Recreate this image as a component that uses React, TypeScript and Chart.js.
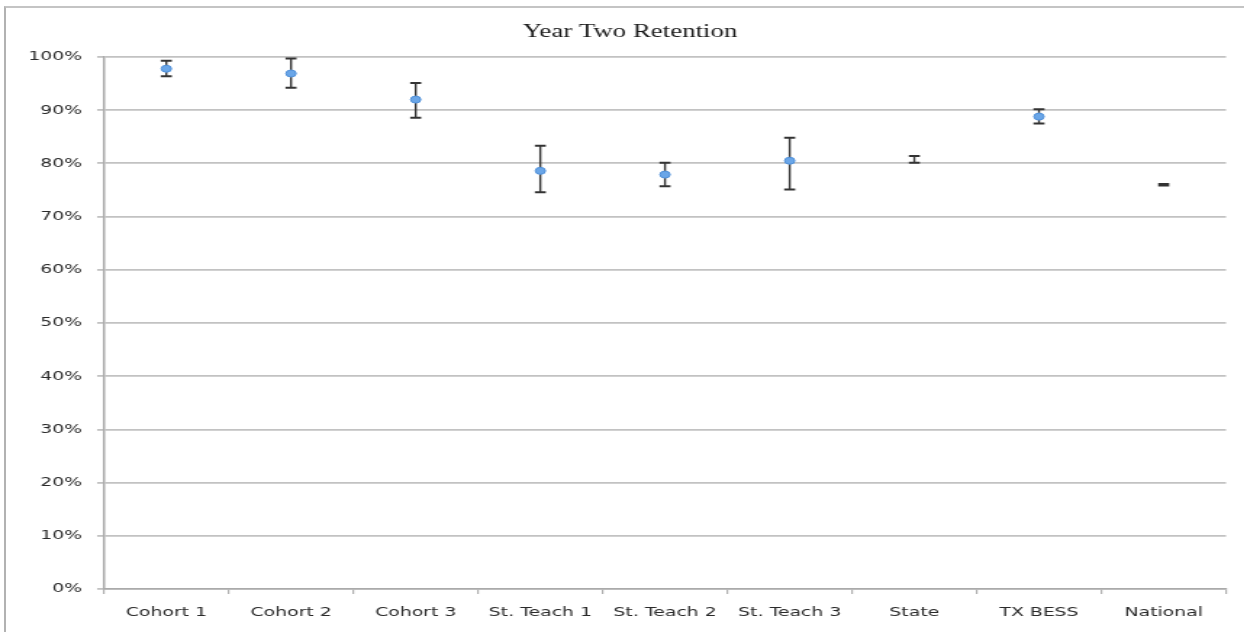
import { useEffect, useRef } from 'react';
import { Chart, registerables } from 'chart.js';

Chart.register(...registerables);

// Year-two retention rates (%) with their error ranges
const chartTitle = 'Year Two Retention';
const categories = ['Cohort 1', 'Cohort 2', 'Cohort 3', 'St. Teach 1', 'St. Teach 2', 'St. Teach 3', 'State', 'TX BESS', 'National'];
const retention = [97.8, 96.9, 92.0, 78.6, 77.9, 80.5, 80.8, 88.8, 76.0];
const lowerBound = [96.4, 94.2, 88.6, 74.6, 75.7, 75.1, 80.1, 87.5, 75.85];
const upperBound = [99.3, 99.7, 95.1, 83.3, 80.1, 84.8, 81.4, 90.2, 76.15];
// categories shown without a marker (only the range bar is drawn)
const barOnly = ['State', 'National'];

// The drawing is rendered narrow and widened horizontally
const STRETCH = 1.45;
const CANVAS_W = 858;
const CANVAS_H = 632;
const PLOT_LEFT = 104 / STRETCH;
const PLOT_RIGHT = 1226 / STRETCH;
const PLOT_TOP = 57;
const PLOT_BOTTOM = 589;
const CAP_HALF = 3.8;

const tickFont = { family: '"DejaVu Sans", sans-serif', size: 13 };

export default function App() {
  const canvasRef = useRef<HTMLCanvasElement>(null);

  useEffect(() => {
    const canvas = canvasRef.current;
    if (!canvas) return;

    const errorBars = {
      id: 'errorBars',
      beforeDatasetsDraw(chart: any) {
        const { ctx, scales } = chart;
        const x = scales.x;
        const y = scales.y;
        ctx.save();
        ctx.strokeStyle = '#333333';
        categories.forEach((_, i) => {
          const px = x.getPixelForValue(i);
          const top = y.getPixelForValue(upperBound[i]);
          const bot = y.getPixelForValue(lowerBound[i]);
          ctx.lineWidth = 1.4;
          ctx.beginPath();
          ctx.moveTo(px, top);
          ctx.lineTo(px, bot);
          ctx.stroke();
          ctx.lineWidth = 2;
          ctx.beginPath();
          ctx.moveTo(px - CAP_HALF, top);
          ctx.lineTo(px + CAP_HALF, top);
          ctx.moveTo(px - CAP_HALF, bot);
          ctx.lineTo(px + CAP_HALF, bot);
          ctx.stroke();
        });
        ctx.restore();
      },
    };

    const centeredTitle = {
      id: 'centeredTitle',
      afterDraw(chart: any) {
        const { ctx } = chart;
        ctx.save();
        ctx.font = '18.5px "Liberation Serif", serif';
        ctx.fillStyle = '#1a1a1a';
        ctx.textAlign = 'center';
        ctx.textBaseline = 'alphabetic';
        ctx.fillText(chartTitle, 630 / STRETCH, 36.5);
        ctx.restore();
      },
    };

    const markerRadius = (ctx: any) =>
      barOnly.includes(categories[ctx.dataIndex]) ? 0 : 3.5;

    const chart = new Chart(canvas, {
      type: 'line',
      data: {
        labels: categories,
        datasets: [
          {
            data: retention,
            showLine: false,
            pointRadius: markerRadius,
            pointHoverRadius: markerRadius,
            pointBackgroundColor: '#6aa6e8',
            pointBorderColor: '#4f8fd8',
            pointBorderWidth: 1,
          },
        ],
      },
      options: {
        responsive: false,
        animation: false,
        devicePixelRatio: 1,
        events: [],
        layout: {
          padding: { top: PLOT_TOP, right: CANVAS_W - PLOT_RIGHT, bottom: 0, left: 0 },
        },
        plugins: {
          legend: { display: false },
          title: { display: false },
          tooltip: { enabled: false },
        },
        scales: {
          x: {
            type: 'category',
            offset: true,
            grid: {
              display: true,
              drawOnChartArea: false,
              drawTicks: true,
              tickLength: 5,
              color: '#b0b0b0',
              lineWidth: 1.2,
              offset: true,
            },
            border: { display: true, color: '#aaaaaa', width: 1.6 },
            ticks: {
              padding: 11.2,
              color: '#2a2a2a',
              font: tickFont,
              maxRotation: 0,
              autoSkip: false,
            },
            afterFit(scale: any) {
              scale.height = CANVAS_H - PLOT_BOTTOM;
            },
          },
          y: {
            min: 0,
            max: 100,
            ticks: {
              stepSize: 10,
              padding: 10.3,
              color: '#2a2a2a',
              font: tickFont,
              callback: (v: any) => `${v}%`,
            },
            grid: { color: '#c2c2c2', lineWidth: 1.8, tickLength: 4.8 },
            border: { display: true, color: '#aaaaaa', width: 1.5 },
            afterFit(scale: any) {
              scale.width = PLOT_LEFT;
            },
          },
        },
      },
      plugins: [errorBars, centeredTitle],
    });

    return () => chart.destroy();
  }, []);

  return (
    <div
      style={{
        position: 'fixed',
        left: 0,
        top: 0,
        width: 1244,
        height: 632,
        overflow: 'hidden',
        background: '#ffffff',
      }}
    >
      <div
        style={{
          position: 'absolute',
          left: 4,
          top: 6,
          width: 1400,
          height: 800,
          borderLeft: '2px solid #b2b2b2',
          borderTop: '2px solid #c4c4c4',
        }}
      />
      <div
        style={{
          position: 'absolute',
          left: 0,
          top: 0,
          width: CANVAS_W,
          height: CANVAS_H,
          transform: `scaleX(${STRETCH})`,
          transformOrigin: '0 0',
        }}
      >
        <canvas ref={canvasRef} width={CANVAS_W} height={CANVAS_H} />
      </div>
    </div>
  );
}
